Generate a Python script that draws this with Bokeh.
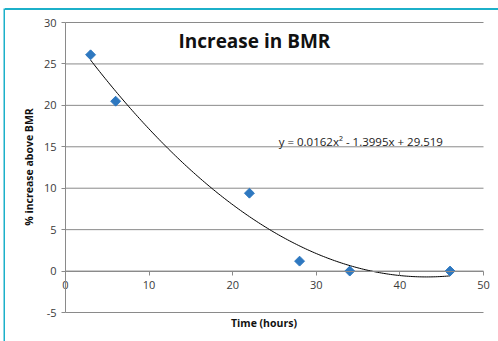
import numpy as np
from bokeh.plotting import figure
from bokeh.models import LinearAxis, Label, FixedTicker, Range1d, Spacer, Div
from bokeh.layouts import column, row
from bokeh.embed import file_html
from bokeh.resources import INLINE

# data
time_hours = [3, 6, 22, 28, 34, 46]
bmr_increase = [26.1, 20.5, 9.4, 1.2, 0.0, 0.0]
trend_coeffs = [0.0162, -1.3995, 29.519]  # shown in the chart's trendline label
x_ticks = [0, 10, 20, 30, 40, 50]
y_ticks = [-5, 0, 5, 10, 15, 20, 25, 30]
y_tick_labels = ["-5", "0", "5", "10", "15", "20", "25", "30"]
title_text = "Increase in BMR"
x_label = "Time (hours)"
y_label = "% increase above BMR"
eq_text = "y = 0.0162x\u00b2 - 1.3995x + 29.519"

FONT = "Open Sans"
GRID = "#8a8a8a"
TEAL = "#1cb0c9"
LABEL_C = "#3a3a3a"

# page geometry (pixels): where the 0..50 / -5..30 box lies, and the wider frame
X_LO, X_HI = x_ticks[0], x_ticks[-1]
Y_LO, Y_HI = y_ticks[0], y_ticks[-1]
PX_X0, PX_X1 = 65, 483      # x = 0 and x = 50
PX_YT, PX_YB = 22, 312      # y = 30 and y = -5
FL, FR, FT, FB = 35, 492, 16, 317   # frame edges (wider, so axis labels are not clipped)
FIG_X, FIG_Y, FIG_W, FIG_H = 5, 10, 493, 331

sx = (PX_X1 - PX_X0) / (X_HI - X_LO)
sy = (PX_YB - PX_YT) / (Y_HI - Y_LO)
x_range = Range1d(X_LO - (PX_X0 - FL) / sx, X_HI + (FR - PX_X1) / sx)
y_range = Range1d(Y_LO - (FB - PX_YB) / sy, Y_HI + (PX_YT - FT) / sy)

p = figure(width=FIG_W, height=FIG_H, output_backend="svg", toolbar_location=None,
           x_range=x_range, y_range=y_range,
           min_border_left=FL - FIG_X, min_border_right=FIG_X + FIG_W - FR,
           min_border_top=FT - FIG_Y, min_border_bottom=FIG_Y + FIG_H - FB)
p.outline_line_color = None
p.background_fill_color = "white"
p.border_fill_color = "white"
p.xgrid.visible = False
p.ygrid.visible = False

# horizontal gridlines across the 0..50 box
n = len(y_ticks)
p.segment(x0=[X_LO] * n, x1=[X_HI] * n, y0=y_ticks, y1=y_ticks, line_color=GRID, line_width=1)

# label-only axes (centred on the 0..50 / -5..30 box)
xlab = p.xaxis[0]
xlab.ticker = FixedTicker(ticks=[])
xlab.bounds = (X_LO, X_HI)
xlab.axis_line_color = None
xlab.major_tick_line_color = None
xlab.minor_tick_line_color = None
xlab.axis_label = x_label
xlab.axis_label_text_font = FONT
xlab.axis_label_text_font_style = "bold"
xlab.axis_label_text_font_size = "10.5px"
xlab.axis_label_text_color = "#111111"
xlab.axis_label_standoff = -2

ylab = p.yaxis[0]
ylab.ticker = FixedTicker(ticks=[])
ylab.bounds = (Y_LO, Y_HI)
ylab.axis_line_color = None
ylab.major_tick_line_color = None
ylab.minor_tick_line_color = None
ylab.axis_label = y_label
ylab.axis_label_text_font = FONT
ylab.axis_label_text_font_style = "bold"
ylab.axis_label_text_font_size = "10.5px"
ylab.axis_label_text_color = "#111111"
ylab.axis_label_standoff = 0

# y axis at x = 0
ya = LinearAxis(fixed_location=0, ticker=FixedTicker(ticks=y_ticks), bounds=(Y_LO, Y_HI))
ya.major_label_overrides = dict(zip(y_ticks, y_tick_labels))
ya.axis_line_color = GRID
ya.major_tick_line_color = GRID
ya.major_tick_out = 4
ya.major_tick_in = 0
ya.minor_tick_line_color = None
ya.major_label_text_font = FONT
ya.major_label_text_font_size = "11px"
ya.major_label_text_color = LABEL_C
ya.major_label_standoff = 5
p.add_layout(ya, "left")

# x axis crossing at y = 0
xa = LinearAxis(fixed_location=0, ticker=FixedTicker(ticks=x_ticks), bounds=(X_LO, X_HI))
xa.axis_line_color = GRID
xa.major_tick_line_color = GRID
xa.major_tick_out = 4
xa.major_tick_in = 0
xa.minor_tick_line_color = None
xa.major_label_text_font = FONT
xa.major_label_text_font_size = "11px"
xa.major_label_text_color = LABEL_C
xa.major_label_standoff = 6
p.add_layout(xa, "below")

# polynomial trendline over the data's span
xs = np.linspace(min(time_hours), max(time_hours), 200)
ys = np.polyval(trend_coeffs, xs)
p.line(xs, ys, line_color="black", line_width=1)

# data points (Excel-style diamonds: rotated squares)
p.scatter(time_hours, bmr_increase, marker="square", size=7, angle=np.pi / 4,
          fill_color="#2e78c0", line_color="#2e78c0")

p.add_layout(Label(x=22.6, y=29.3, text=title_text, text_font=FONT, text_font_style="bold",
                   text_font_size="19px", text_align="center", text_baseline="top",
                   text_color="#111111"))
p.add_layout(Label(x=25.5, y=15.6, text=eq_text, text_font=FONT,
                   text_font_size="11.5px", text_align="left", text_baseline="middle",
                   text_color="#222222"))


def bar(w, h):
    f = figure(width=w, height=h, output_backend="svg", toolbar_location=None,
               min_border=0, x_axis_location=None, y_axis_location=None)
    f.background_fill_color = TEAL
    f.border_fill_color = TEAL
    f.outline_line_color = None
    f.grid.visible = False
    return f


left_bar = bar(2, FIG_H + 2)
top_bar = Div(text="", width=FIG_W, height=2,
              styles={"background-color": TEAL, "margin": "0", "padding": "0"})
layout = column(
    Spacer(width=498, height=8),
    row(Spacer(width=3, height=FIG_H + 2), left_bar,
        column(top_bar, p, spacing=0), spacing=0),
    spacing=0,
)

open("out.html", "w").write(file_html(layout, INLINE))
